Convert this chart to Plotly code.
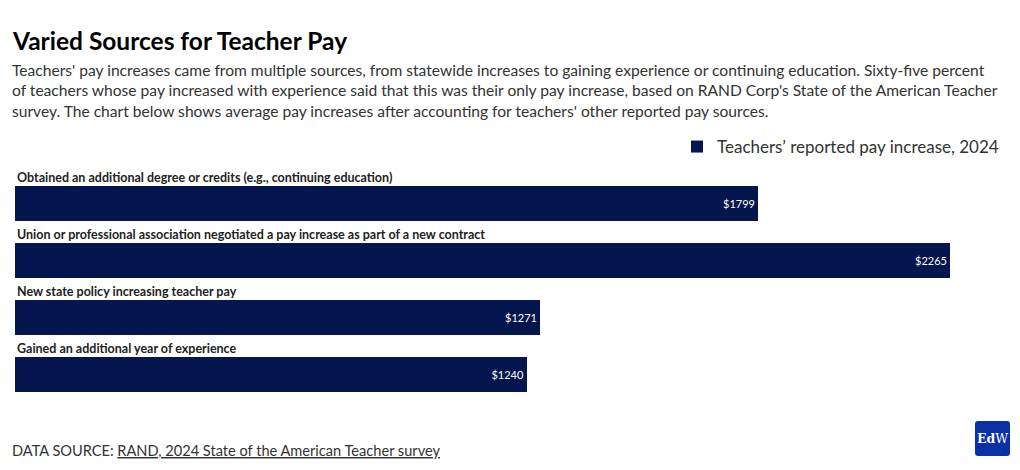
import plotly.graph_objects as go

categories = [
    "Obtained an additional degree or credits (e.g., continuing education)",
    "Union or professional association negotiated a pay increase as part of a new contract",
    "New state policy increasing teacher pay",
    "Gained an additional year of experience",
]
values = [1799, 2265, 1271, 1240]
value_labels = ["$1799", "$2265", "$1271", "$1240"]
series_name = "Teachers’ reported pay increase, 2024"

title = "Varied Sources for Teacher Pay"
subtitle_lines = [
    "Teachers' pay increases came from multiple sources, from statewide increases to gaining experience or continuing education. Sixty-five percent",
    "of teachers whose pay increased with experience said that this was their only pay increase, based on RAND Corp's State of the American Teacher",
    "survey. The chart below shows average pay increases after accounting for teachers' other reported pay sources.",
]
source_label = "DATA SOURCE: "
source_link = "RAND, 2024 State of the American Teacher survey"

W, H = 1020, 470
ML, MR, MT, MB = 15, 10, 175, 67
PLOT_H = H - MT - MB
PLOT_W = W - ML - MR

def py(p):
    return (H - MB - p) / PLOT_H

def px(p):
    return (p - ML) / PLOT_W

FONT = "Source Sans Pro, Lato, Open Sans, sans-serif"
BAR = "#05164f"
BAR_W = 35 / 57

pos = list(range(len(categories)))

fig = go.Figure()
fig.add_trace(go.Bar(
    x=values, y=pos, orientation="h", name=series_name,
    marker=dict(color=BAR, line=dict(width=0)),
    width=BAR_W,
    text=value_labels, textposition="inside", insidetextanchor="end",
    textfont=dict(color="white", size=11, family=FONT),
    showlegend=True, hoverinfo="x+y",
))

annotations = []
for i, c in enumerate(categories):
    annotations.append(dict(
        x=0, y=i - BAR_W / 2, xref="x", yref="y", text=f"<b>{c}</b>",
        showarrow=False, xanchor="left", yanchor="bottom", yshift=-1,
        font=dict(size=12.5, family=FONT, color="#222"),
    ))

annotations.append(dict(
    x=px(10), y=py(40), xref="paper", yref="paper", text=f"<b>{title}</b>",
    showarrow=False, xanchor="left", yanchor="middle",
    font=dict(size=24.5, family=FONT, color="#000"),
))
annotations.append(dict(
    x=px(10), y=py(59), xref="paper", yref="paper", text="<br>".join(subtitle_lines),
    showarrow=False, xanchor="left", yanchor="top", align="left",
    font=dict(size=15.6, family=FONT, color="#333"),
))
annotations.append(dict(
    x=px(10), y=py(450), xref="paper", yref="paper",
    text=source_label + f"<u>{source_link}</u>",
    showarrow=False, xanchor="left", yanchor="middle", align="left",
    font=dict(size=14.6, family=FONT, color="#333"),
))
annotations.append(dict(
    x=px(992.5), y=py(438.5), xref="paper", yref="paper", text="<b>Ed</b>W",
    showarrow=False, xanchor="center", yanchor="middle",
    font=dict(size=12.5, family="DejaVu Serif, Liberation Serif, serif", color="white"),
))

# rounded logo box
x0, x1, y0, y1, r = 975, 1010, 421, 456, 3
path = (
    f"M {px(x0 + r)},{py(y0)} L {px(x1 - r)},{py(y0)} "
    f"Q {px(x1)},{py(y0)} {px(x1)},{py(y0 + r)} L {px(x1)},{py(y1 - r)} "
    f"Q {px(x1)},{py(y1)} {px(x1 - r)},{py(y1)} L {px(x0 + r)},{py(y1)} "
    f"Q {px(x0)},{py(y1)} {px(x0)},{py(y1 - r)} L {px(x0)},{py(y0 + r)} "
    f"Q {px(x0)},{py(y0)} {px(x0 + r)},{py(y0)} Z"
)
shapes = [dict(
    type="path", xref="paper", yref="paper", path=path,
    fillcolor="#0a30a6", line=dict(width=0), layer="above",
)]

fig.update_layout(
    width=W, height=H,
    margin=dict(l=ML, r=MR, t=MT, b=MB, pad=0),
    paper_bgcolor="white", plot_bgcolor="white",
    font=dict(family=FONT, color="#333"),
    xaxis=dict(range=[0, 2410], visible=False, fixedrange=True),
    yaxis=dict(range=[3.5, -0.5], visible=False, fixedrange=True),
    legend=dict(
        x=px(1004), y=py(147), xanchor="right", yanchor="middle",
        font=dict(size=17, family=FONT, color="#333"),
        bgcolor="rgba(0,0,0,0)", itemwidth=30,
    ),
    annotations=annotations, shapes=shapes,
    bargap=0,
)

fig.write_html(
    "out.html",
    config={"displayModeBar": False},
    post_script="document.body.style.margin='0';document.body.style.overflow='hidden';",
)
